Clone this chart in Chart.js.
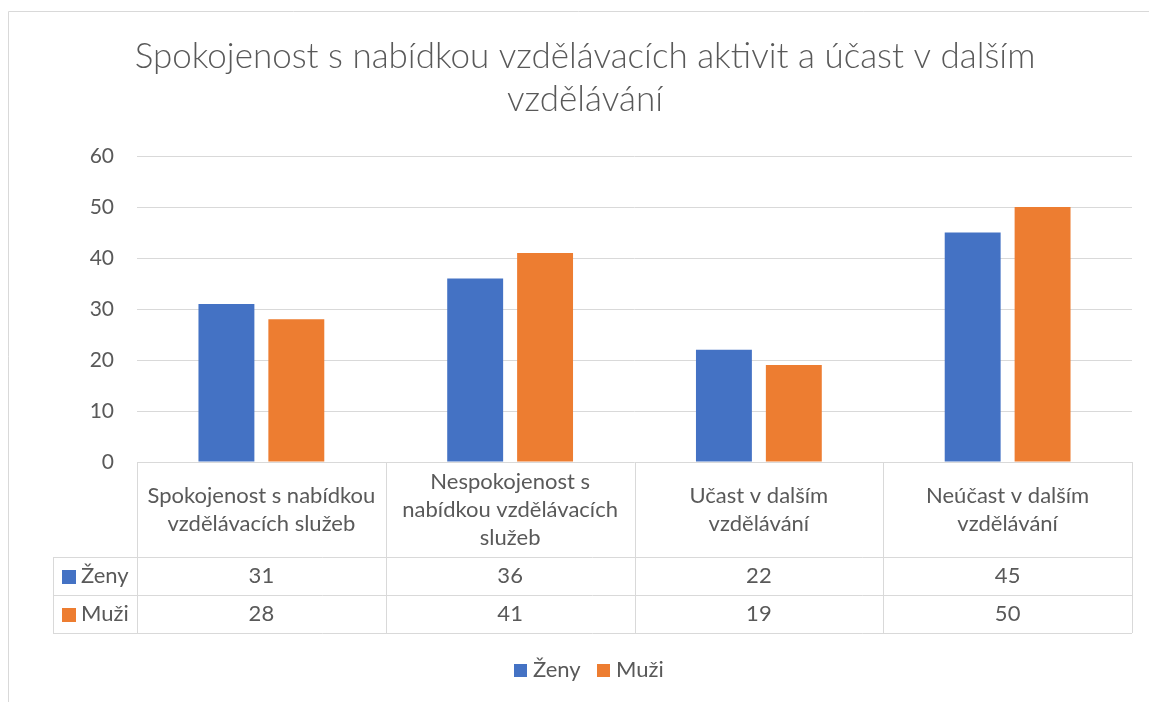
<!DOCTYPE html>
<html lang="cs">
<head>
<meta charset="utf-8">
<title>Spokojenost s nabídkou vzdělávacích aktivit</title>
<script src="https://cdn.jsdelivr.net/npm/chart.js@4.4.1/dist/chart.umd.min.js"></script>
<style>
  html, body { margin: 0; padding: 0; background: #fff; overflow: hidden; }
  #wrap { width: 1149px; height: 702px; position: relative; }
</style>
</head>
<body>
<div id="wrap"><canvas id="chart"></canvas></div>
<script>
// Data
const chartTitle = ['Spokojenost s nabídkou vzdělávacích aktivit a účast v dalším', 'vzdělávání'];
const categories = [
    ['Spokojenost s nabídkou', 'vzdělávacích služeb'],
    ['Nespokojenost s', 'nabídkou vzdělávacích', 'služeb'],
    ['Učast v dalším', 'vzdělávání'],
    ['Neúčast v dalším', 'vzdělávání'],
];
const seriesNames = ['Ženy', 'Muži'];
const zeny = [31, 36, 22, 45];
const muzi = [28, 41, 19, 50];
const yMax = 60;
const yStep = 10;

const colors = ['#4472C4', '#ED7D31'];
const textColor = '#595959';
const lineColor = '#d9d9d9';
const fontFamily = 'Lato, "Open Sans", sans-serif';

/**
 * Titulek, tabulka dat pod osou a legenda
 */
const tablePlugin = {
    id: 'dataTable',
    afterDraw(chart) {
        const ctx = chart.ctx;
        const area = chart.chartArea;
        const x = chart.scales.x;
        const n = categories.length;
        const step = n > 1 ? x.getPixelForValue(1) - x.getPixelForValue(0) : area.right - area.left;
        const top = area.bottom;
        const headH = 95;
        const rowH = 38;
        const leftCol = area.left - 84;

        ctx.save();

        // rámeček grafu
        ctx.strokeStyle = lineColor;
        ctx.lineWidth = 1;
        ctx.beginPath();
        ctx.moveTo(8.5, chart.height);
        ctx.lineTo(8.5, 11.5);
        ctx.lineTo(chart.width, 11.5);
        ctx.stroke();

        // titulek
        ctx.fillStyle = textColor;
        ctx.textAlign = 'center';
        ctx.textBaseline = 'alphabetic';
        ctx.font = '300 35px ' + fontFamily;
        chartTitle.forEach((line, i) => ctx.fillText(line, 585, 68 + i * 43));

        // mřížka tabulky
        ctx.beginPath();
        for (let i = 0; i <= n; i++) {
            const px = Math.round(x.getPixelForValue(i) - step / 2) + 0.5;
            ctx.moveTo(px, top);
            ctx.lineTo(px, top + headH + rowH * 2);
        }
        ctx.moveTo(leftCol + 0.5, top + headH);
        ctx.lineTo(leftCol + 0.5, top + headH + rowH * 2);
        for (let r = 1; r <= 2; r++) {
            const py = Math.round(top + headH + rowH * (r - 1)) + 0.5;
            ctx.moveTo(leftCol, py);
            ctx.lineTo(area.right, py);
        }
        const bottomY = Math.round(top + headH + rowH * 2) + 0.5;
        ctx.moveTo(leftCol, bottomY);
        ctx.lineTo(area.right, bottomY);
        ctx.stroke();

        // popisky kategorií
        ctx.font = '22px ' + fontFamily;
        ctx.fillStyle = textColor;
        categories.forEach((lines, i) => {
            const cx = x.getPixelForValue(i);
            const startY = top + headH / 2 - (lines.length - 1) * 14 + 7;
            lines.forEach((line, j) => ctx.fillText(line, cx, startY + j * 28));
        });

        // řádky s hodnotami
        const rows = [zeny, muzi];
        rows.forEach((vals, r) => {
            const baseY = top + headH + rowH * r + 26;
            ctx.fillStyle = colors[r];
            ctx.fillRect(leftCol + 9, baseY - 13, 14, 14);
            ctx.fillStyle = textColor;
            ctx.textAlign = 'left';
            ctx.fillText(seriesNames[r], leftCol + 28, baseY);
            ctx.textAlign = 'center';
            vals.forEach((v, i) => ctx.fillText(String(v), x.getPixelForValue(i), baseY));
        });

        // legenda
        ctx.textAlign = 'left';
        const legendY = 677;
        let lx = 514;
        seriesNames.forEach((name, i) => {
            ctx.fillStyle = colors[i];
            ctx.fillRect(lx, legendY - 13, 13, 13);
            ctx.fillStyle = textColor;
            ctx.fillText(name, lx + 19, legendY);
            lx = 597;
        });

        ctx.restore();
    },
};

const chart = new Chart(document.getElementById('chart'), {
    type: 'bar',
    data: {
        labels: categories,
        datasets: [
            { label: seriesNames[0], data: zeny, backgroundColor: colors[0] },
            { label: seriesNames[1], data: muzi, backgroundColor: colors[1] },
        ],
    },
    options: {
        responsive: true,
        maintainAspectRatio: false,
        animation: false,
        datasets: {
            bar: { categoryPercentage: 0.562, barPercentage: 0.8 },
        },
        layout: { padding: { left: 20, right: 17, top: 156, bottom: 240 } },
        plugins: {
            legend: { display: false },
            title: { display: false },
            tooltip: { enabled: false },
        },
        scales: {
            x: {
                grid: { display: false },
                border: { display: false },
                ticks: { display: false },
                afterFit: (scale) => { scale.height = 0; },
            },
            y: {
                min: 0,
                max: yMax,
                ticks: {
                    stepSize: yStep,
                    color: textColor,
                    padding: 23,
                    font: { family: fontFamily, size: 21 },
                },
                grid: { color: lineColor, drawTicks: false },
                border: { display: false },
                afterFit: (scale) => { scale.width = 117; },
            },
        },
    },
    plugins: [tablePlugin],
});
</script>
</body>
</html>
